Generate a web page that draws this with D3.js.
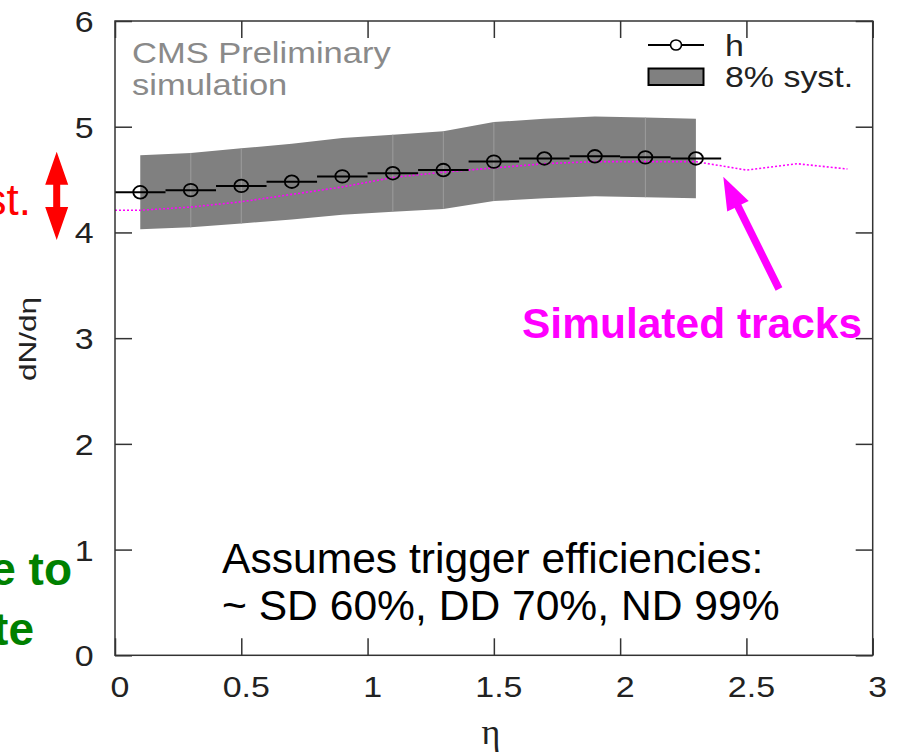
<!DOCTYPE html>
<html>
<head>
<meta charset="utf-8">
<script src="https://cdn.jsdelivr.net/npm/d3@7/dist/d3.min.js"></script>
<style>
  html, body { margin: 0; padding: 0; background: #fff; }
  svg { display: block; }
</style>
</head>
<body>
<svg id="chart" width="899" height="752"></svg>
<script>
// ---------- data ----------
const xTickValues = [0, 0.5, 1, 1.5, 2, 2.5, 3];
const xTickLabels = ["0", "0.5", "1", "1.5", "2", "2.5", "3"];
const yTickValues = [0, 1, 2, 3, 4, 5, 6];
const yTickLabels = ["0", "1", "2", "3", "4", "5", "6"];

const hEta  = [0.1, 0.3, 0.5, 0.7, 0.9, 1.1, 1.3, 1.5, 1.7, 1.9, 2.1, 2.3];
const hVals = [4.38, 4.40, 4.44, 4.48, 4.53, 4.56, 4.59, 4.67, 4.70, 4.72, 4.71, 4.70];
const hBinHalfWidth = 0.1;
const systFraction = 0.08;
const bandSeamEta = [0.3, 0.5, 1.1, 1.3, 1.5, 2.1];

const simEta  = [0.0, 0.1, 0.3, 0.5, 0.7, 0.9, 1.1, 1.3, 1.5, 1.7, 1.9, 2.1, 2.3, 2.4, 2.5, 2.7, 2.9];
const simVals = [4.21, 4.21, 4.24, 4.29, 4.36, 4.43, 4.52, 4.57, 4.61, 4.65, 4.67, 4.67, 4.67, 4.63, 4.59, 4.65, 4.60];

const legendLabels = ["h", "8% syst."];
const cmsLabels = ["CMS Preliminary", "simulation"];
const noteLines = ["Assumes trigger efficiencies:", "~ SD 60%, DD 70%, ND 99%"];
const simLabel = "Simulated tracks";
const xTitle = "\u03b7";
const yTitle = "dN/d\u03b7";

// ---------- layout ----------
const svg = d3.select("#chart");
const L = 115, R = 872.7, T = 21, B = 655.3;
const x = d3.scaleLinear().domain([0, 3]).range([L, R]);
const y = d3.scaleLinear().domain([0, 6]).range([B, T]);
const SX = 1.17; // horizontal stretch of the plot's own text
const rootFont = "'Liberation Sans', Arial, Helvetica, sans-serif";
const axisColor = "#333";
const tickLen = 17;

// systematic band
const band = d3.area()
  .x((d, i) => x(hEta[i]))
  .y0((d) => y(d * (1 - systFraction)))
  .y1((d) => y(d * (1 + systFraction)));
svg.append("path").datum(hVals).attr("d", band).attr("fill", "#808080");

// faint seams in band
svg.append("g").selectAll("line").data(bandSeamEta).join("line")
  .attr("x1", d => x(d)).attr("x2", d => x(d))
  .attr("y1", d => { const i = hEta.indexOf(d); return y(hVals[i] * (1 - systFraction)); })
  .attr("y2", d => { const i = hEta.indexOf(d); return y(hVals[i] * (1 + systFraction)); })
  .attr("stroke", "#9c9c9c").attr("stroke-width", 1);

// simulated tracks line
const simLine = d3.line().x((d, i) => x(simEta[i])).y(d => y(d));
svg.append("path").datum(simVals).attr("d", simLine)
  .attr("fill", "none").attr("stroke", "#ff00ff").attr("stroke-width", 1.6)
  .attr("stroke-dasharray", "2,2");

// h histogram bars
svg.append("g").selectAll("line").data(hVals).join("line")
  .attr("x1", (d, i) => x(hEta[i] - hBinHalfWidth))
  .attr("x2", (d, i) => x(hEta[i] + hBinHalfWidth))
  .attr("y1", d => y(d)).attr("y2", d => y(d))
  .attr("stroke", "#000").attr("stroke-width", 2);
svg.append("g").selectAll("ellipse").data(hVals).join("ellipse")
  .attr("cx", (d, i) => x(hEta[i])).attr("cy", d => y(d))
  .attr("rx", 7).attr("ry", 6.3)
  .attr("fill", "none").attr("stroke", "#000").attr("stroke-width", 1.8);

// frame
svg.append("rect").attr("x", L).attr("y", T).attr("width", R - L).attr("height", B - T)
  .attr("fill", "none").attr("stroke", axisColor).attr("stroke-width", 1.5);

// axes (ticks inside)
function styleAxis(g) {
  g.select(".domain").remove();
  g.selectAll(".tick line").attr("stroke", axisColor).attr("stroke-width", 1.5);
}
const xAxisB = d3.axisBottom(x).tickValues(xTickValues).tickSize(-tickLen)
  .tickFormat((d, i) => xTickLabels[i]);
const gxb = svg.append("g").attr("transform", `translate(0,${B})`).call(xAxisB).call(styleAxis);
gxb.selectAll(".tick text")
  .attr("y", null).attr("dy", null)
  .attr("transform", `translate(4.5,42) scale(${SX},1)`)
  .attr("font-family", rootFont).attr("font-size", 29).attr("fill", "#222")
  .attr("text-anchor", "middle");

svg.append("g").attr("transform", `translate(0,${T})`)
  .call(d3.axisTop(x).tickValues(xTickValues).tickSize(-tickLen).tickFormat(""))
  .call(styleAxis);

const yAxisL = d3.axisLeft(y).tickValues(yTickValues).tickSize(-tickLen)
  .tickFormat((d, i) => yTickLabels[i]);
const gyl = svg.append("g").attr("transform", `translate(${L},0)`).call(yAxisL).call(styleAxis);
gyl.selectAll(".tick text")
  .attr("x", null).attr("dy", null)
  .attr("transform", `translate(-21.5,10.5) scale(${SX},1)`)
  .attr("font-family", rootFont).attr("font-size", 29).attr("fill", "#222")
  .attr("text-anchor", "end");

svg.append("g").attr("transform", `translate(${R},0)`)
  .call(d3.axisRight(y).tickValues(yTickValues).tickSize(-tickLen).tickFormat(""))
  .call(styleAxis);

// axis titles
svg.append("text").text(xTitle)
  .attr("transform", "translate(491,744)")
  .attr("text-anchor", "middle")
  .attr("font-family", "'Liberation Serif', 'DejaVu Serif', serif")
  .attr("font-size", 36).attr("fill", "#222");
svg.append("text").text(yTitle)
  .attr("transform", "translate(36,339) rotate(-90)")
  .attr("text-anchor", "middle")
  .attr("font-family", rootFont).attr("font-size", 24).attr("fill", "#222")
  .attr("textLength", 84).attr("lengthAdjust", "spacingAndGlyphs");

// CMS label
svg.append("text").text(cmsLabels[0])
  .attr("transform", `translate(132,63.3) scale(1.15,1)`)
  .attr("font-family", rootFont).attr("font-size", 30).attr("fill", "#8a8a8a");
svg.append("text").text(cmsLabels[1])
  .attr("transform", `translate(132,95) scale(1.15,1)`)
  .attr("font-family", rootFont).attr("font-size", 30).attr("fill", "#8a8a8a");

// legend
const lg = svg.append("g");
lg.append("line").attr("x1", 648).attr("x2", 704).attr("y1", 45).attr("y2", 45)
  .attr("stroke", "#000").attr("stroke-width", 2);
lg.append("ellipse").attr("cx", 676).attr("cy", 45).attr("rx", 5.5).attr("ry", 5)
  .attr("fill", "#fff").attr("stroke", "#000").attr("stroke-width", 1.6);
lg.append("rect").attr("x", 648.5).attr("y", 68.5).attr("width", 55).attr("height", 16.5)
  .attr("fill", "#808080").attr("stroke", "#000").attr("stroke-width", 2);
lg.append("text").text(legendLabels[0])
  .attr("transform", `translate(725,55.7) scale(${SX},1)`)
  .attr("font-family", rootFont).attr("font-size", 29).attr("fill", "#222");
lg.append("text").text(legendLabels[1])
  .attr("transform", `translate(725,86.7) scale(${SX},1)`)
  .attr("font-family", rootFont).attr("font-size", 29).attr("fill", "#222");

// note text
const slideFont = "'Liberation Sans', Arial, Helvetica, sans-serif";
svg.append("text").text(noteLines[0]).attr("x", 222).attr("y", 572.7)
  .attr("font-family", slideFont).attr("font-size", 42.6).attr("fill", "#000");
svg.append("text").text(noteLines[1]).attr("x", 222).attr("y", 620)
  .attr("font-family", slideFont).attr("font-size", 42.6).attr("fill", "#000");

// simulated tracks annotation
svg.append("text").text(simLabel).attr("x", 522).attr("y", 338.3)
  .attr("font-family", slideFont).attr("font-size", 42.5).attr("font-weight", "bold")
  .attr("fill", "#ff00ff");

function arrowPath(x0, y0, x1, y1, shaftW, headL, headW) {
  // single-headed arrow from (x0,y0) to tip (x1,y1)
  const dx = x1 - x0, dy = y1 - y0, len = Math.hypot(dx, dy);
  const ux = dx / len, uy = dy / len, px = -uy, py = ux;
  const bx = x1 - ux * headL, by = y1 - uy * headL;
  const pts = [
    [x0 + px * shaftW / 2, y0 + py * shaftW / 2],
    [bx + px * shaftW / 2, by + py * shaftW / 2],
    [bx + px * headW / 2, by + py * headW / 2],
    [x1, y1],
    [bx - px * headW / 2, by - py * headW / 2],
    [bx - px * shaftW / 2, by - py * shaftW / 2],
    [x0 - px * shaftW / 2, y0 - py * shaftW / 2]
  ];
  return "M" + pts.map(p => p.join(",")).join("L") + "Z";
}
svg.append("path").attr("d", arrowPath(779, 289, 723.3, 176.7, 7.5, 33, 24))
  .attr("fill", "#ff00ff");

// red double arrow and partial text at left edge
function doubleArrow(cx, yTop, yBot, shaftW, headL, headW) {
  const pts = [
    [cx, yTop], [cx + headW / 2, yTop + headL], [cx + shaftW / 2, yTop + headL],
    [cx + shaftW / 2, yBot - headL], [cx + headW / 2, yBot - headL], [cx, yBot],
    [cx - headW / 2, yBot - headL], [cx - shaftW / 2, yBot - headL],
    [cx - shaftW / 2, yTop + headL], [cx - headW / 2, yTop + headL]
  ];
  return "M" + pts.map(p => p.join(",")).join("L") + "Z";
}
svg.append("path").attr("d", doubleArrow(56.7, 151.7, 240, 7, 33, 23)).attr("fill", "#ff0000");
svg.append("text").text("st.").attr("x", 31).attr("y", 215)
  .attr("text-anchor", "end")
  .attr("font-family", slideFont).attr("font-size", 44).attr("fill", "#ff0000");

svg.append("text").text("e to").attr("x", 72).attr("y", 585)
  .attr("text-anchor", "end")
  .attr("font-family", slideFont).attr("font-size", 46).attr("font-weight", "bold")
  .attr("fill", "#008000");
svg.append("text").text("te").attr("x", 34).attr("y", 645)
  .attr("text-anchor", "end")
  .attr("font-family", slideFont).attr("font-size", 46).attr("font-weight", "bold")
  .attr("fill", "#008000");
</script>
</body>
</html>
